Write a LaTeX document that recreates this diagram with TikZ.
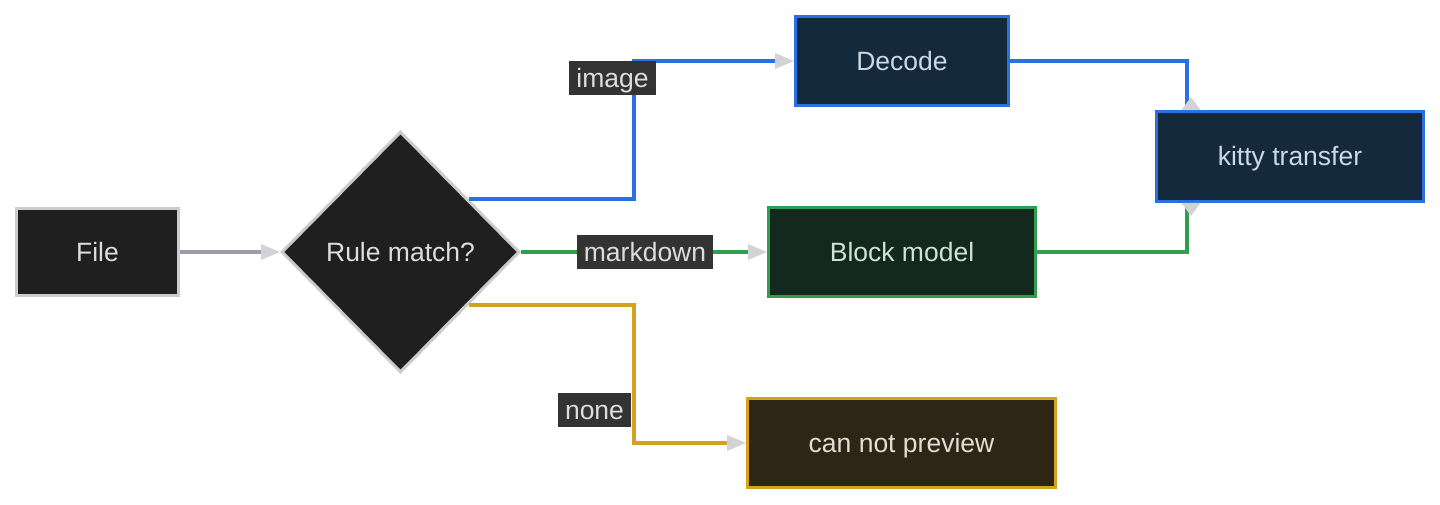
\documentclass[tikz,border=0pt]{standalone}
\usepackage{fontspec}
\setmainfont{Liberation Sans}
\usetikzlibrary{arrows.meta,shapes.geometric}
\definecolor{nodegray}{HTML}{1F1F1F}
\definecolor{bordergray}{HTML}{CCCCCC}
\definecolor{textgray}{HTML}{DDDDDD}
\definecolor{edgegray}{HTML}{9A9CAA}
\definecolor{tipgray}{HTML}{D3D3D3}
\definecolor{bluel}{HTML}{2B6FE3}
\definecolor{bluefill}{HTML}{15293C}
\definecolor{bluetext}{HTML}{CBD9E6}
\definecolor{greenl}{HTML}{2F9E4F}
\definecolor{greenfill}{HTML}{13291D}
\definecolor{greentext}{HTML}{D0E2D4}
\definecolor{yell}{HTML}{D4A21F}
\definecolor{yelfill}{HTML}{2E2517}
\definecolor{yeltext}{HTML}{E2DDD5}
\definecolor{lblfill}{HTML}{333333}
\begin{document}
\begin{tikzpicture}[x=1pt,y=-1pt,
  txt/.style={font=\fontsize{26.5}{30}\selectfont, text height=19pt, text depth=0pt},
  box/.style={txt, draw, line width=3pt, inner sep=0pt, minimum height=89pt},
  graybox/.style={box, fill=nodegray, draw=bordergray, text=textgray},
  bluebox/.style={box, fill=bluefill, draw=bluel, text=bluetext},
  greenbox/.style={box, fill=greenfill, draw=greenl, text=greentext},
  yelbox/.style={box, fill=yelfill, draw=yell, text=yeltext},
  lbl/.style={txt, fill=lblfill, text=textgray, inner xsep=7pt, inner ysep=0pt, minimum height=34pt},
  edge/.style={line width=3.3pt},
  tip/.style={-{Triangle[length=19pt,width=16pt,line width=0pt,color=tipgray]}}
]
\fill[white] (0,0) rectangle (1440,505);
\useasboundingbox (0,0) rectangle (1440,505);

\node[graybox, minimum width=162pt, minimum height=87pt] (file) at (97.5,252) {File};
\node[graybox, shape=diamond, shape aspect=1, minimum width=238pt, minimum height=241pt] (rule) at (400.5,252) {Rule match?};
\node[bluebox, minimum width=213pt] (dec) at (902,61) {Decode};
\node[greenbox, minimum width=267pt] (bm) at (902,252) {Block model};
\node[yelbox, minimum width=308pt] (cnp) at (901.5,443) {can not preview};
\node[bluebox, minimum width=267pt, minimum height=90pt] (kt) at (1290,156.5) {kitty transfer};

\draw[edge, edgegray, tip] (file.east) -- (rule.west);
\draw[edge, bluel, tip] (rule.38.5) -| ([xshift=-160pt]dec.west) -- (dec.west);
\draw[edge, greenl, tip] (rule.east) -- (bm.west);
\draw[edge, yell, tip] (rule.-38.5) -| ([xshift=-112pt]cnp.west) -- (cnp.west);
\draw[edge, bluel] (dec.east) -| ([xshift=-103pt]kt.north);
\draw[edge, greenl] (bm.east) -| ([xshift=-103pt]kt.south);
\fill[tipgray] ([xshift=-99pt]kt.north) ++(-9.5,0) -- ++(19,0) -- ++(-9.5,-13) -- cycle;
\fill[tipgray] ([xshift=-99pt]kt.south) ++(-9.5,0) -- ++(19,0) -- ++(-9.5,13) -- cycle;

\node[lbl] (limage) at (612.5,78.5) {image};
\node[lbl] (lmd) at (645,252) {markdown};
\node[lbl] (lnone) at (594.5,410) {none};
\end{tikzpicture}
\end{document}
